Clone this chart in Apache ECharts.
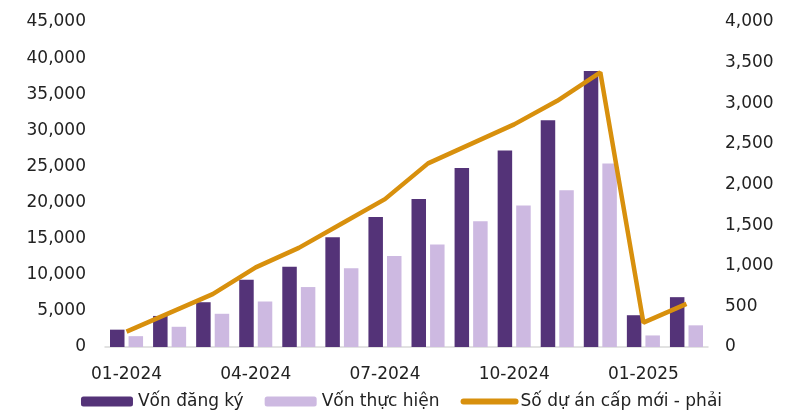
<!DOCTYPE html>
<html>
<head>
<meta charset="utf-8">
<script src="https://cdn.jsdelivr.net/npm/echarts@6/dist/echarts.min.js"></script>
<style>
  html, body { margin: 0; padding: 0; background: #fff; }
  #chart { width: 803px; height: 411px; }
</style>
</head>
<body>
<div id="chart"></div>
<script>
  // tháng
  var months = ['01-2024', '02-2024', '03-2024', '04-2024', '05-2024', '06-2024', '07-2024',
    '08-2024', '09-2024', '10-2024', '11-2024', '12-2024', '01-2025', '02-2025']
  var vonDangKy = [2400, 4300, 6200, 9300, 11100, 15200, 18000, 20500, 24800, 27200, 31400, 38200, 4400, 6900]
  var vonThucHien = [1500, 2800, 4600, 6300, 8300, 10900, 12600, 14200, 17400, 19600, 21700, 25400, 1600, 3000]
  var soDuAn = [190, 420, 650, 980, 1220, 1520, 1820, 2260, 2500, 2740, 3030, 3380, 300, 530]

  var font = 'DejaVu Sans'
  var myChart = echarts.init(document.getElementById('chart'))
  var option = {
    animation: false,
    textStyle: { fontFamily: font },
    grid: { left: 105, right: 95, top: 22, bottom: 64 },
    legend: {
      top: 388,
      left: 'center',
      itemWidth: 52,
      itemHeight: 10,
      itemGap: 21,
      textStyle: { fontSize: 17, color: '#222', fontFamily: font },
      data: [
        { name: 'Vốn đăng ký' },
        { name: 'Vốn thực hiện' },
        { name: 'Số dự án cấp mới - phải', itemStyle: { opacity: 0 }, lineStyle: { width: 6, cap: 'round' } }
      ]
    },
    xAxis: {
      type: 'category',
      data: months,
      axisLine: { lineStyle: { color: '#d9d9d9', width: 1.5 } },
      axisTick: { interval: 2, length: 5, lineStyle: { color: '#d9d9d9', width: 1.5 } },
      axisLabel: { interval: 2, color: '#222', fontSize: 17, margin: 19 }
    },
    yAxis: [
      {
        type: 'value',
        min: 0, max: 45000, interval: 5000,
        axisLine: { show: false },
        axisTick: { show: false },
        splitLine: { show: false },
        axisLabel: {
          color: '#222', fontSize: 17, margin: 19,
          formatter: function (v) { return v.toLocaleString('en-US') }
        }
      },
      {
        type: 'value',
        min: 0, max: 4000, interval: 500,
        axisLine: { show: false },
        axisTick: { show: false },
        splitLine: { show: false },
        axisLabel: {
          color: '#222', fontSize: 17, margin: 17,
          formatter: function (v) { return v.toLocaleString('en-US') }
        }
      }
    ],
    series: [
      {
        name: 'Vốn đăng ký',
        type: 'bar',
        data: vonDangKy,
        barWidth: 14.5,
        barGap: '28%',
        itemStyle: { color: '#543378' }
      },
      {
        name: 'Vốn thực hiện',
        type: 'bar',
        data: vonThucHien,
        barWidth: 14.5,
        barGap: '28%',
        itemStyle: { color: '#CDB9E1' }
      },
      {
        name: 'Số dự án cấp mới - phải',
        type: 'line',
        yAxisIndex: 1,
        data: soDuAn,
        symbol: 'none',
        lineStyle: { color: '#D8900D', width: 4.5 },
        itemStyle: { color: '#D8900D' },
        z: 5
      }
    ]
  }
  myChart.setOption(option)
  window.addEventListener('resize', () => { myChart.resize() })
</script>
</body>
</html>
